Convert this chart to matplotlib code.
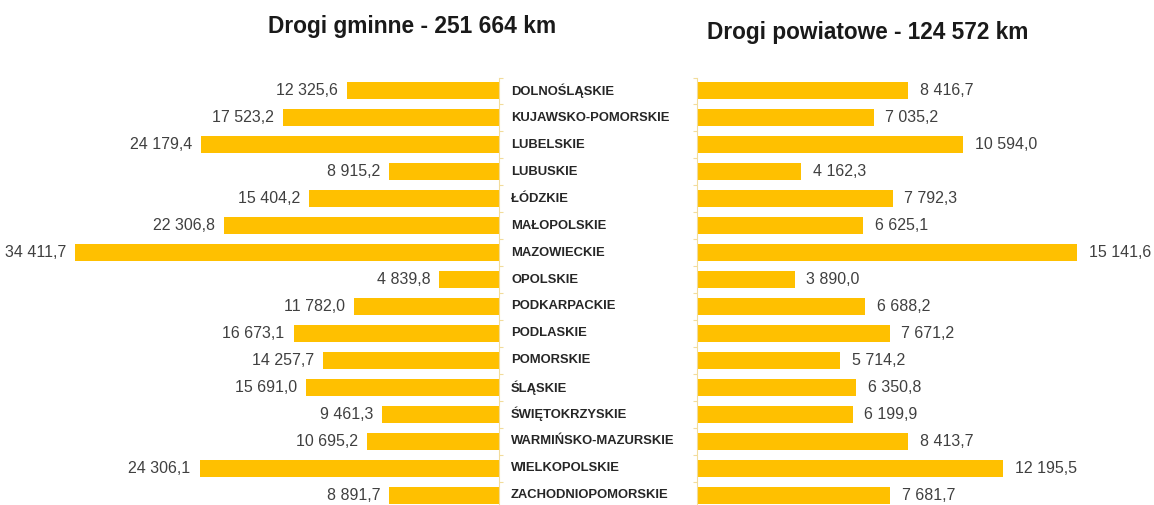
import matplotlib.pyplot as plt
import matplotlib.transforms as mtransforms
import numpy as np

plt.rcParams['font.family'] = ['Liberation Sans', 'DejaVu Sans']

regions = ["DOLNOŚLĄSKIE", "KUJAWSKO-POMORSKIE", "LUBELSKIE", "LUBUSKIE", "ŁÓDZKIE",
           "MAŁOPOLSKIE", "MAZOWIECKIE", "OPOLSKIE", "PODKARPACKIE", "PODLASKIE",
           "POMORSKIE", "ŚLĄSKIE", "ŚWIĘTOKRZYSKIE", "WARMIŃSKO-MAZURSKIE",
           "WIELKOPOLSKIE", "ZACHODNIOPOMORSKIE"]
gminne = [12325.6, 17523.2, 24179.4, 8915.2, 15404.2, 22306.8, 34411.7, 4839.8,
          11782.0, 16673.1, 14257.7, 15691.0, 9461.3, 10695.2, 24306.1, 8891.7]
powiatowe = [8416.7, 7035.2, 10594.0, 4162.3, 7792.3, 6625.1, 15141.6, 3890.0,
             6688.2, 7671.2, 5714.2, 6350.8, 6199.9, 8413.7, 12195.5, 7681.7]
title_gminne = "Drogi gminne - 251 664 km"
title_powiatowe = "Drogi powiatowe - 124 572 km"

BAR = "#FFC000"
AXIS = "#F2DC9B"
W, H = 1154, 505


def fmt(v):
    return f"{v:,.1f}".replace(",", " ").replace(".", ",")


def style_axis(ax, side):
    for s in ax.spines.values():
        s.set_visible(False)
    ax.spines[side].set_visible(True)
    ax.spines[side].set_color(AXIS)
    ax.spines[side].set_linewidth(0.8)
    ax.set_xticks([])
    ax.set_yticks(np.arange(-0.5, len(regions), 1.0))
    ax.set_yticklabels([])
    ax.tick_params(axis="y", length=3, color=AXIS, width=0.8,
                   left=(side == "left"), right=(side == "right"))


fig = plt.figure(figsize=(W / 100, H / 100), dpi=100)
top_px, bot_px = 77.5, 508.5
ax_b = 1 - bot_px / H
ax_h = (bot_px - top_px) / H

ax1 = fig.add_axes([0, ax_b, 499 / W, ax_h])
ax2 = fig.add_axes([697 / W, ax_b, (W - 697) / W, ax_h])

y = np.arange(len(regions))

ax1.barh(y, gminne, height=0.63, color=BAR)
ax1.set_xlim(40500, 0)
ax1.set_ylim(len(regions) - 0.5, -0.5)
style_axis(ax1, "right")
for yi, v in zip(y, gminne):
    ax1.annotate(fmt(v), (v, yi), xytext=(-6.5, 0), textcoords="offset points",
                 ha="right", va="center", fontsize=11.5, color="#404040")

ax2.barh(y, powiatowe, height=0.63, color=BAR)
ax2.set_xlim(0, 18210)
ax2.set_ylim(len(regions) - 0.5, -0.5)
style_axis(ax2, "left")
for yi, v in zip(y, powiatowe):
    ax2.annotate(fmt(v), (v, yi), xytext=(8.5, 0), textcoords="offset points",
                 ha="left", va="center", fontsize=11.5, color="#404040")

# region names sit in the gap between both panels
trans = mtransforms.blended_transform_factory(fig.transFigure, ax1.transData)
for yi, name in zip(y, regions):
    ax1.text(511 / W, yi, name, transform=trans, ha="left", va="center",
             fontsize=9.4, fontweight="bold", color="#262626", clip_on=False)

fig.text(412 / W, 1 - 27 / H, title_gminne, ha="center", va="center",
         fontsize=16.4, fontweight="bold", color="#1a1a1a")
fig.text(868 / W, 1 - 32 / H, title_powiatowe, ha="center", va="center",
         fontsize=16.3, fontweight="bold", color="#1a1a1a")

fig.savefig("out.png", dpi=100)
